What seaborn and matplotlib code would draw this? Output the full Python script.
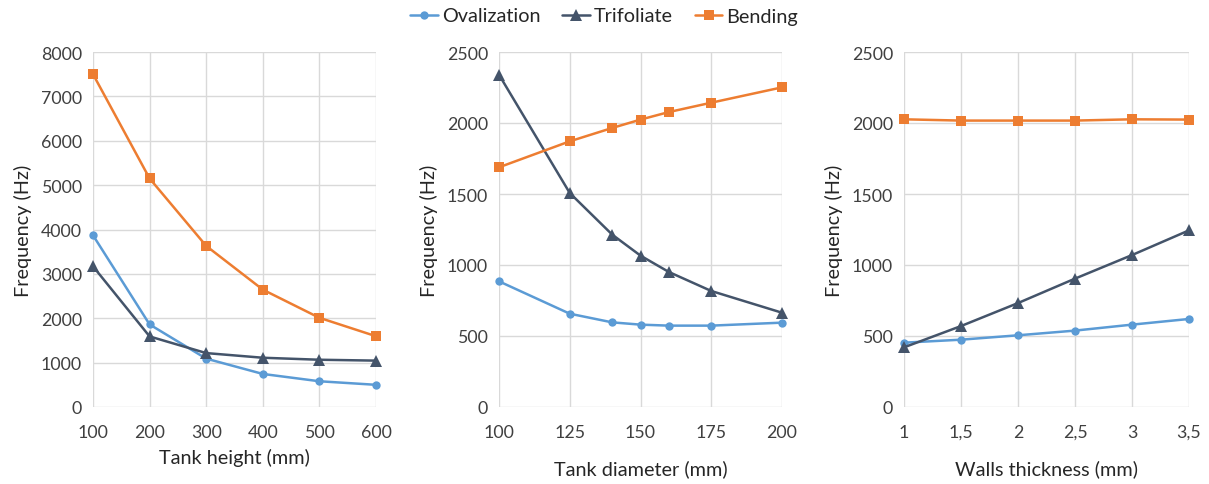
import matplotlib
matplotlib.use("Agg")
import matplotlib.pyplot as plt
import seaborn as sns
import pandas as pd

sns.set_theme(style="white")
plt.rcParams['font.family'] = ['Lato', 'DejaVu Sans']

series_names = ["Ovalization", "Trifoliate", "Bending"]
colors = {"Ovalization": "#5B9BD5", "Trifoliate": "#44546A", "Bending": "#ED7D31"}
markers = {"Ovalization": "o", "Trifoliate": "^", "Bending": "s"}
msizes = {"Ovalization": 6, "Trifoliate": 8.5, "Bending": 6.5}

# Panel 1: tank height
height_mm = [100, 200, 300, 400, 500, 600]
height_oval = [3870, 1860, 1090, 745, 580, 500]
height_trif = [3170, 1590, 1215, 1110, 1065, 1045]
height_bend = [7500, 5150, 3630, 2645, 2010, 1595]

# Panel 2: tank diameter
diam_mm = [100, 125, 140, 150, 160, 175, 200]
diam_oval = [885, 657, 596, 580, 573, 573, 594]
diam_trif = [2340, 1507, 1214, 1066, 951, 817, 664]
diam_bend = [1688, 1871, 1965, 2024, 2077, 2143, 2251]

# Panel 3: walls thickness
wall_mm = [1, 1.5, 2, 2.5, 3, 3.5]
wall_oval = [453, 474, 505, 538, 580, 620]
wall_trif = [420, 570, 732, 904, 1070, 1244]
wall_bend = [2026, 2017, 2017, 2017, 2026, 2024]

x_labels_1 = ["100", "200", "300", "400", "500", "600"]
x_ticks_2 = [100, 125, 150, 175, 200]
x_labels_2 = ["100", "125", "150", "175", "200"]
x_labels_3 = ["1", "1,5", "2", "2,5", "3", "3,5"]

panels = [
    dict(x=height_mm, ys=[height_oval, height_trif, height_bend], xlabel="Tank height (mm)",
         xticks=height_mm, xticklabels=x_labels_1, ymax=8000, ystep=1000,
         rect=(93, 53, 376, 408), xlabpad=6),
    dict(x=diam_mm, ys=[diam_oval, diam_trif, diam_bend], xlabel="Tank diameter (mm)",
         xticks=x_ticks_2, xticklabels=x_labels_2, ymax=2500, ystep=500,
         rect=(499, 53, 782, 408), xlabpad=14),
    dict(x=wall_mm, ys=[wall_oval, wall_trif, wall_bend], xlabel="Walls thickness (mm)",
         xticks=wall_mm, xticklabels=x_labels_3, ymax=2500, ystep=500,
         rect=(904, 53, 1189, 408), xlabpad=14),
]

W, H = 1209, 485
fig = plt.figure(figsize=(W / 100, H / 100), dpi=100)
fs = 12.8
lfs = 14.3

handles = []
for pi, p in enumerate(panels):
    l, t, r, b = p["rect"]
    ax = fig.add_axes([l / W, 1 - b / H, (r - l) / W, (b - t) / H])
    for name, y in zip(series_names, p["ys"]):
        df = pd.DataFrame({"x": p["x"], "y": y})
        sns.lineplot(data=df, x="x", y="y", ax=ax, color=colors[name], marker=markers[name],
                     markersize=msizes[name], markeredgewidth=0, linewidth=1.8,
                     label=name, clip_on=False, zorder=3)
    ax.set_xlim(p["x"][0], p["x"][-1])
    ax.set_ylim(0, p["ymax"])
    ax.set_xticks(p["xticks"])
    ax.set_xticklabels(p["xticklabels"])
    ax.set_yticks(list(range(0, p["ymax"] + 1, p["ystep"])))
    ax.grid(True, color="#D9D9D9", linewidth=1.0)
    for s in ax.spines.values():
        s.set_visible(False)
    ax.tick_params(axis="both", length=0, labelsize=fs, colors="#404040")
    ax.tick_params(axis="x", pad=12)
    ax.tick_params(axis="y", pad=8)
    ax.set_xlabel(p["xlabel"], fontsize=lfs, color="#262626", labelpad=p["xlabpad"])
    ax.set_ylabel("Frequency (Hz)", fontsize=lfs, color="#262626", labelpad=6)
    if pi == 0:
        handles, labels = ax.get_legend_handles_labels()
    ax.get_legend().remove()

fig.legend(handles, labels, loc="center", bbox_to_anchor=(604 / W, 1 - 17 / H), ncol=3,
           frameon=False, fontsize=lfs, handlelength=1.4, columnspacing=1.1,
           handletextpad=0.2)

fig.savefig("out.png", dpi=100, facecolor="white")
